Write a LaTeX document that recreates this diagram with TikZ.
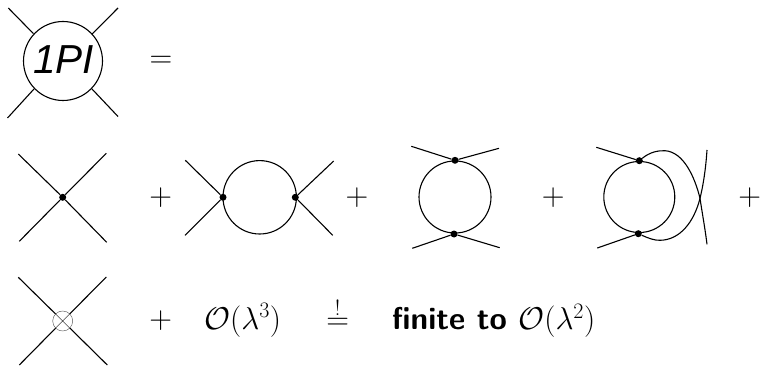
\documentclass[tikz,border=0pt]{standalone}
\usepackage{fix-cm}
\usepackage{fontspec}
\newfontfamily\helv{Liberation Sans}
\tikzset{
  line/.style={line width=1.1pt,black},
  vtx/.style={circle,fill=black,inner sep=0pt,minimum size=7pt},
  blob/.style={circle,draw=black,line width=1.1pt,inner sep=0pt},
  loopc/.style={circle,draw=black,line width=1.1pt,inner sep=0pt},
  sym/.style={inner sep=0pt,text=black,font=\fontsize{31.5}{38}\selectfont},
}
\begin{document}
\begin{tikzpicture}[x=1pt,y=-1pt]
\useasboundingbox (0,0) rectangle (762,366);
\fill[white] (0,0) rectangle (762,366);
% --- 1PI
\node[blob,minimum size=79pt] (pi) at (63,61) {};
\node[inner sep=0pt,anchor=base,font=\helv\itshape\fontsize{40.5}{44}\selectfont] (pit) at (63.5,74) {1PI};
\coordinate (pa) at (8.3,8); \coordinate (pb) at (118,8);
\coordinate (pc) at (7.5,118); \coordinate (pd) at (118,116.5);
\draw[line] (pa) -- (33.4,33.6) (pb) -- (92.2,34) (pc) -- (34,89) (pd) -- (92,89);
\node[sym] (eq) at (161,62) {$=$};
% --- tree vertex
\node[vtx] (v1) at (62.7,197.3) {};
\coordinate (a1) at (18.3,154); \coordinate (a2) at (106.3,153.3);
\coordinate (a3) at (19.3,241.3); \coordinate (a4) at (106.7,242.3);
\draw[line] (a1) -- (v1) (a2) -- (v1) (a3) -- (v1) (a4) -- (v1);
\node[sym] (p1) at (160.7,197.7) {$+$};
% --- s-channel
\node[loopc,minimum size=73.4pt] (c2) at (259.7,197.3) {};
\node[vtx] (v2) at (223,197.3) {};
\node[vtx] (v3) at (295.3,197.3) {};
\coordinate (b1) at (185.3,160.3); \coordinate (b2) at (185,235.3);
\coordinate (b3) at (333.7,161); \coordinate (b4) at (332.7,235.3);
\draw[line] (b1) -- (v2) (b2) -- (v2) (b3) -- (v3) (b4) -- (v3);
\node[sym] (p2) at (357,197.7) {$+$};
% --- t-channel
\node[loopc,minimum size=72pt] (c3) at (455,197) {};
\node[vtx] (v4) at (455,160.3) {};
\node[vtx] (v5) at (454,234) {};
\coordinate (d1) at (411.3,146.3); \coordinate (d2) at (499,148.3);
\coordinate (d3) at (412.3,248.3); \coordinate (d4) at (499.7,247.7);
\draw[line] (d1) -- (v4) (d2) -- (v4) (d3) -- (v5) (d4) -- (v5);
\node[sym] (p3) at (553.3,197.7) {$+$};
% --- u-channel
\node[loopc,minimum size=71pt] (c4) at (639.3,197) {};
\node[vtx] (v6) at (639.3,160.7) {};
\node[vtx] (v7) at (638.3,233.7) {};
\coordinate (e1) at (596.3,147.3); \coordinate (e2) at (597.3,248);
\coordinate (e3) at (707,150); \coordinate (e4) at (707,244.3);
\draw[line] (e1) -- (v6) (e2) -- (v7);
\draw[line] (v6) .. controls (650,152) and (658,150.5) .. (665,150.7)
  .. controls (684,152) and (695,178) .. (700,198.3)
  .. controls (702,212) and (705,228) .. (e4);
\draw[line] (v7) .. controls (648,238) and (654,240.5) .. (660,240.3)
  .. controls (680,240) and (694,222) .. (700,198.3)
  .. controls (704,182) and (706,165) .. (e3);
\node[sym] (p4) at (749.7,197.7) {$+$};
% --- counterterm
\node[circle,draw=black!70,line width=0.4pt,fill=white,minimum size=20pt,inner sep=0pt] (ct) at (62.7,321) {};
\coordinate (f1) at (18.3,277.3); \coordinate (f2) at (106.3,277);
\coordinate (f3) at (19.3,365); \coordinate (f4) at (107.3,365);
\draw[line] (f1) -- (ct) (f2) -- (ct) (f3) -- (ct) (f4) -- (ct);
\draw[line width=0.4pt] (ct.north west) -- (ct.south east) (ct.north east) -- (ct.south west);
\node[sym] (p5) at (160.7,321) {$+$};
\node[sym,anchor=base west] (o) at (204,329) {$\mathcal{O}(\lambda^3)$};
\node[sym,anchor=base] (eqq) at (337.7,329) {$\stackrel{!}{=}$};
\node[sym,anchor=base west] (fin) at (392,329.5) {\sffamily\bfseries finite to $\mathcal{O}(\lambda^2)$};
\end{tikzpicture}
\end{document}
